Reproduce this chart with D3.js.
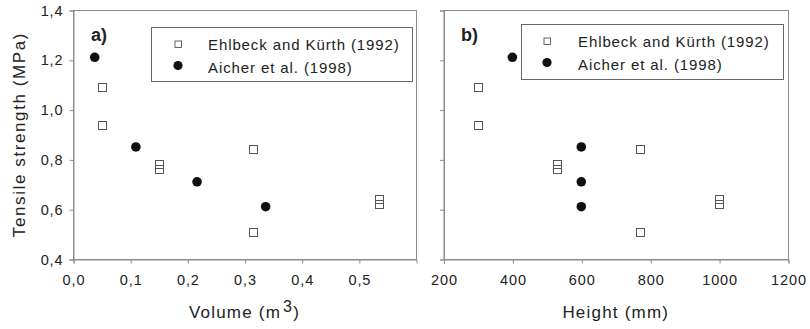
<!DOCTYPE html>
<html>
<head>
<meta charset="utf-8">
<script src="https://cdn.jsdelivr.net/npm/d3@7/dist/d3.min.js"></script>
<style>
  html, body { margin: 0; padding: 0; background: #fff; }
  svg { display: block; font-family: "Liberation Sans", Arial, sans-serif; }
</style>
</head>
<body>
<svg id="chart" width="810" height="329"></svg>
<script>
// Tensile strength against specimen volume (a) and height (b)
const seriesNames = ["Ehlbeck and Kürth (1992)", "Aicher et al. (1998)"];

// Ehlbeck and Kürth (1992)
const ehlbeckVolume = [0.05, 0.05, 0.15, 0.15, 0.315, 0.315, 0.535, 0.535];
const ehlbeckHeight = [300, 300, 530, 530, 770, 770, 1000, 1000];
const ehlbeckStrength = [1.09, 0.94, 0.78, 0.76, 0.84, 0.51, 0.64, 0.62];

// Aicher et al. (1998)
const aicherVolume = [0.038, 0.11, 0.217, 0.337];
const aicherHeight = [400, 600, 600, 600];
const aicherStrength = [1.21, 0.85, 0.71, 0.61];

const strengthTicks = [0.4, 0.6, 0.8, 1.0, 1.2, 1.4];
const volumeTicks = [0.0, 0.1, 0.2, 0.3, 0.4, 0.5];
const heightTicks = [200, 400, 600, 800, 1000, 1200];

const svg = d3.select("#chart");
const frameColor = "#8c8c8c";
const textColor = "#222";
const comma = d => d3.format(".1f")(d).replace(".", ",");

const y = d3.scaleLinear().domain([0.4, 1.4]).range([259, 10]);

const panels = [
  {
    label: "a)", x: d3.scaleLinear().domain([0, 0.6]).range([73, 416]),
    xTicks: volumeTicks, xFmt: comma, showY: true,
    sq: ehlbeckVolume, ci: aicherVolume,
    legend: { x: 151, y: 27, w: 261, h: 54, symX: 178, textX: 208 },
    labelX: 91, title: "Volume (m", sup: "3"
  },
  {
    label: "b)", x: d3.scaleLinear().domain([200, 1200]).range([443.5, 788]),
    xTicks: heightTicks, xFmt: d3.format("d"), showY: false,
    sq: ehlbeckHeight, ci: aicherHeight,
    legend: { x: 521, y: 24, w: 262, h: 55, symX: 547, textX: 578 },
    labelX: 461, title: "Height (mm)", sup: null
  }
];

panels.forEach(p => {
  const [x0, x1] = p.x.range();
  const g = svg.append("g");

  // plot frame
  g.append("rect")
    .attr("x", x0 + 0.5).attr("y", y(1.4) + 0.5)
    .attr("width", x1 - x0).attr("height", y(0.4) - y(1.4))
    .attr("fill", "none").attr("stroke", frameColor).attr("stroke-width", 1);

  // axes
  const ax = g.append("g")
    .attr("transform", `translate(0.5,${y(0.4) + 0.5})`)
    .call(d3.axisBottom(p.x).tickValues(p.xTicks).tickFormat(p.xFmt).tickSize(4).tickPadding(11));
  const ay = g.append("g")
    .attr("transform", `translate(${x0 + 0.5},0.5)`)
    .call(d3.axisLeft(y).tickValues(strengthTicks).tickFormat(p.showY ? comma : () => "").tickSize(4).tickPadding(6));
  [ax, ay].forEach(a => {
    a.select(".domain").attr("stroke", frameColor);
    a.selectAll(".tick line").attr("stroke", frameColor);
    a.selectAll(".tick text").attr("fill", textColor)
      .style("font-size", "14.5px").style("letter-spacing", "0.9px");
  });

  // Ehlbeck and Kürth: open squares
  const s = 8;
  g.selectAll("rect.sq").data(p.sq.map((v, i) => [v, ehlbeckStrength[i]]))
    .enter().append("rect").attr("class", "sq")
    .attr("x", d => Math.round(p.x(d[0]) - s / 2) + 0.5)
    .attr("y", d => Math.round(y(d[1]) - s / 2) + 0.5)
    .attr("width", s).attr("height", s)
    .attr("fill", "#fff").attr("fill-opacity", 0).attr("stroke", "#555").attr("stroke-width", 1);

  // Aicher et al.: filled circles
  g.selectAll("circle.ci").data(p.ci.map((v, i) => [v, aicherStrength[i]]))
    .enter().append("circle").attr("class", "ci")
    .attr("cx", d => p.x(d[0]))
    .attr("cy", d => y(d[1]))
    .attr("r", 4.8).attr("fill", "#111");

  // legend
  const L = p.legend;
  g.append("rect")
    .attr("x", L.x + 0.5).attr("y", L.y + 0.5).attr("width", L.w).attr("height", L.h)
    .attr("fill", "#fff").attr("stroke", "#666").attr("stroke-width", 1);
  g.append("rect")
    .attr("x", L.symX - 3).attr("y", L.y + 17 - 3).attr("width", 6.5).attr("height", 6.5)
    .attr("fill", "#fff").attr("stroke", "#555").attr("stroke-width", 0.9);
  g.append("circle").attr("cx", L.symX).attr("cy", L.y + 38.5).attr("r", 4.6).attr("fill", "#111");
  seriesNames.forEach((name, i) => {
    g.append("text").attr("x", L.textX).attr("y", L.y + 22.5 + i * 23)
      .attr("fill", textColor).style("font-size", "15px").style("letter-spacing", "0.9px")
      .text(name);
  });

  // panel label
  g.append("text").attr("x", p.labelX).attr("y", 41)
    .attr("fill", textColor).style("font-size", "18px").style("font-weight", "bold")
    .text(p.label);

  // x title
  const t = g.append("text")
    .attr("x", (x0 + x1) / 2).attr("y", 318).attr("text-anchor", "middle")
    .attr("fill", textColor).style("font-size", "17px").style("letter-spacing", "1.2px");
  t.append("tspan").text(p.title);
  if (p.sup) {
    t.append("tspan").attr("dx", 2).attr("dy", -6).style("font-size", "16px").text(p.sup);
    t.append("tspan").attr("dy", 6).text(")");
  }
});

// y title
svg.append("text")
  .attr("transform", `translate(25,${(y(0.4) + y(1.4)) / 2}) rotate(-90)`)
  .attr("text-anchor", "middle").attr("fill", textColor)
  .style("font-size", "17px").style("letter-spacing", "1.6px")
  .text("Tensile strength (MPa)");
</script>
</body>
</html>
